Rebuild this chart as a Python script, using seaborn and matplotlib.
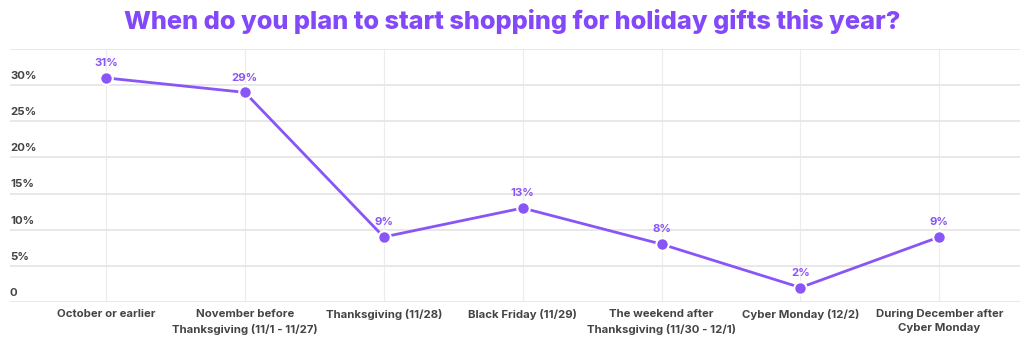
import matplotlib
matplotlib.use("Agg")
import matplotlib.pyplot as plt
import matplotlib.transforms as mtransforms
import pandas as pd
import seaborn as sns

categories = [
    "October or earlier",
    "November before\nThanksgiving (11/1 - 11/27)",
    "Thanksgiving (11/28)",
    "Black Friday (11/29)",
    "The weekend after\nThanksgiving (11/30 - 12/1)",
    "Cyber Monday (12/2)",
    "During December after\nCyber Monday",
]
shares = [31, 29, 9, 13, 8, 2, 9]
y_ticks = [0, 5, 10, 15, 20, 25, 30]
y_tick_labels = ["0", "5%", "10%", "15%", "20%", "25%", "30%"]

purple = "#8a55f7"
title_purple = "#8448fb"
grid_col = "#e6e6e6"
label_col = "#444444"

sns.set_theme(style="white")
plt.rcParams["font.family"] = ["Inter", "DejaVu Sans"]

df = pd.DataFrame({"pos": range(len(categories)), "share": shares})

fig = plt.figure(figsize=(10.24, 3.56), dpi=100)
ax = fig.add_axes([10 / 1024, (356 - 302) / 356, 1010 / 1024, (302 - 49) / 356])

sns.lineplot(data=df, x="pos", y="share", ax=ax, color=purple, linewidth=2,
             marker="o", markersize=9, markeredgewidth=1.5, markeredgecolor="white",
             zorder=3)

ax.set_xlim(-0.69, 6.58)
ax.set_ylim(0, 35)
ax.set_yticks(y_ticks + [35])
ax.set_xticks(range(len(categories)))
ax.grid(True, axis="y", color=grid_col, linewidth=1.3, zorder=0)
ax.grid(True, axis="x", color="#ececec", linewidth=0.8, zorder=0)
ax.tick_params(axis="both", length=0, labelleft=False)
ax.set_xticklabels(categories, fontsize=8.2, fontweight="bold", color=label_col,
                   linespacing=1.55, va="top")
ax.tick_params(axis="x", pad=5)
for s in ax.spines.values():
    s.set_visible(False)
ax.set_xlabel("")
ax.set_ylabel("")

trans = mtransforms.blended_transform_factory(ax.transAxes, ax.transData)
for v, lab in zip(y_ticks, y_tick_labels):
    ax.annotate(lab, xy=(0, v), xycoords=trans, xytext=(0, 3), textcoords="offset points",
                ha="left", va="bottom", fontsize=8.2, fontweight="bold", color=label_col)

for i, v in enumerate(shares):
    ax.annotate(f"{v}%", xy=(i, v), xytext=(0, 7), textcoords="offset points",
                ha="center", va="bottom", fontsize=8.2, fontweight="bold", color=purple)

fig.text(0.5, 1 - 22 / 356, "When do you plan to start shopping for holiday gifts this year?",
         ha="center", va="center", fontsize=18.3, fontweight="heavy", color=title_purple)

fig.savefig("out.png", dpi=100)
